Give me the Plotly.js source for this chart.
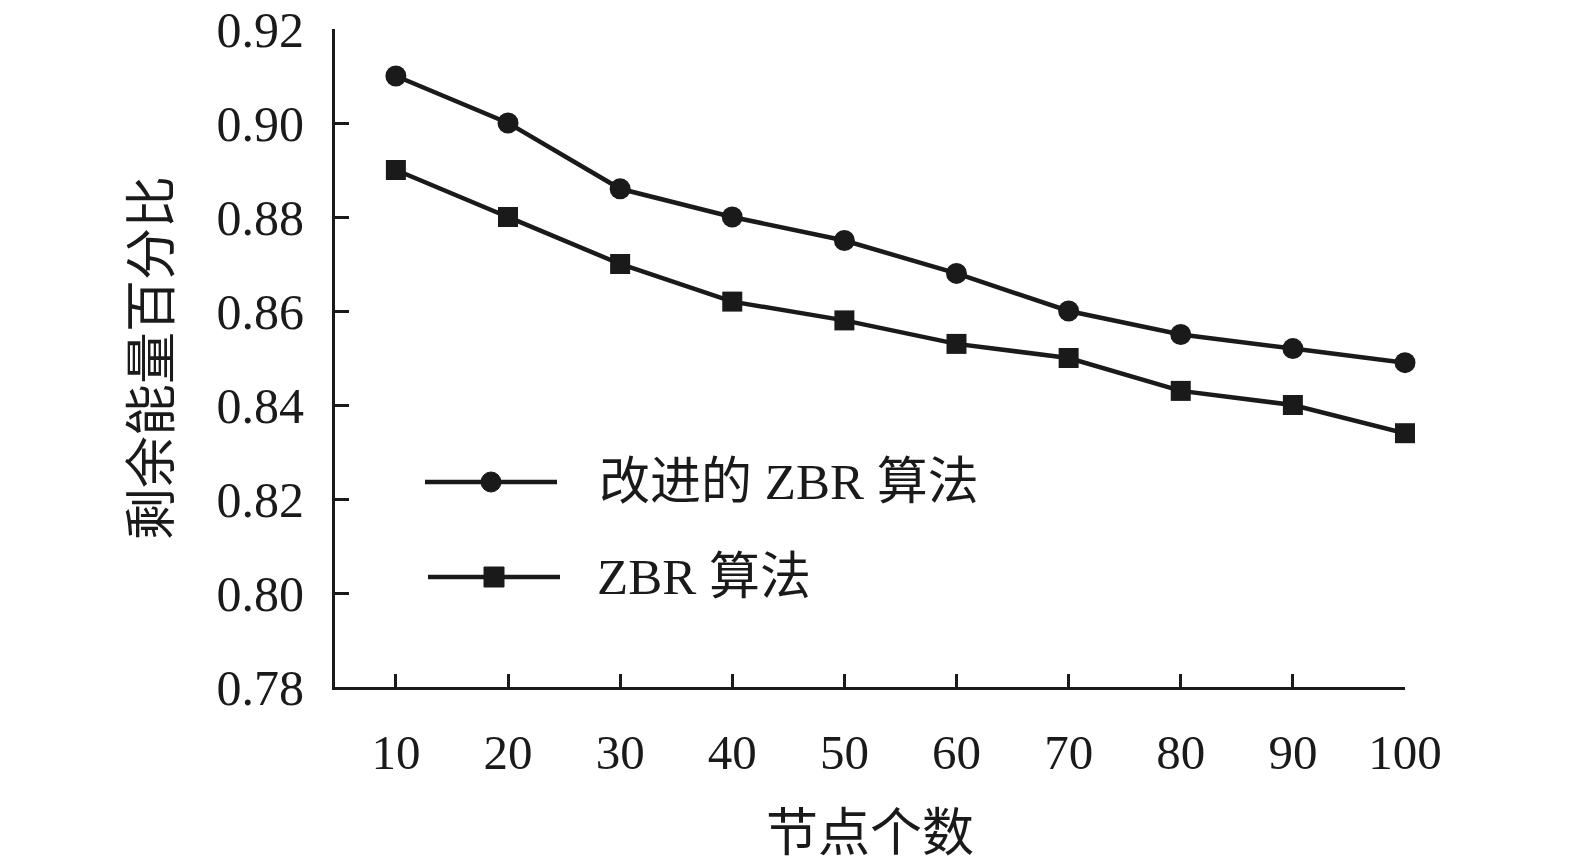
<!DOCTYPE html>
<html>
<head>
<meta charset="utf-8">
<script src="https://cdn.plot.ly/plotly-3.0.1.min.js"></script>
<style>
  html, body { margin: 0; padding: 0; background: #fff; }
  #chart { width: 1575px; height: 862px; }
</style>
</head>
<body>
<div id="chart"></div>
<script>
// node counts and remaining-energy ratios
const nodeCounts = [10, 20, 30, 40, 50, 60, 70, 80, 90, 100];
const improvedZBR = [0.910, 0.900, 0.886, 0.880, 0.875, 0.868, 0.860, 0.855, 0.852, 0.849];
const plainZBR = [0.890, 0.880, 0.870, 0.862, 0.858, 0.853, 0.850, 0.843, 0.840, 0.834];
const yTicks = [0.78, 0.80, 0.82, 0.84, 0.86, 0.88, 0.90, 0.92];
const seriesNames = ['改进的 ZBR 算法', 'ZBR 算法'];

const INK = '#1a1a1a';
const FONT = '"Liberation Serif", "Noto Sans CJK SC", serif';

// plot box in pixels
const L = 335, R = 1405, T = 29, B = 687;
const px = x => (x - L) / (R - L);
const py = y => (B - y) / (B - T);

const traces = [
  {x: nodeCounts, y: improvedZBR, name: seriesNames[0], mode: 'lines+markers', cliponaxis: false,
   line: {color: INK, width: 4.5}, marker: {symbol: 'circle', size: 21, color: INK}},
  {x: nodeCounts, y: plainZBR, name: seriesNames[1], mode: 'lines+markers', cliponaxis: false,
   line: {color: INK, width: 4.5}, marker: {symbol: 'square', size: 20, color: INK}}
];

// hand-made legend: long line samples like the original
const legendRows = [
  {x0: 425, x1: 557, xm: 491, y: 482, sym: 'circle', tx: 597},
  {x0: 428, x1: 560, xm: 494, y: 577, sym: 'rect', tx: 595}
];
const shapes = [], annotations = [];
legendRows.forEach((r, i) => {
  shapes.push({type: 'line', xref: 'paper', yref: 'paper', x0: px(r.x0), x1: px(r.x1),
    y0: py(r.y), y1: py(r.y), line: {color: INK, width: 4.5}});
  shapes.push({type: r.sym, xref: 'paper', yref: 'paper', xsizemode: 'pixel', ysizemode: 'pixel',
    xanchor: px(r.xm), yanchor: py(r.y), x0: -10, x1: 10, y0: -10, y1: 10,
    fillcolor: INK, line: {color: INK, width: 1}});
  annotations.push({xref: 'paper', yref: 'paper', x: px(r.tx), y: py(r.y), xanchor: 'left',
    yanchor: 'middle', showarrow: false, text: seriesNames[i], font: {family: FONT, size: 51, color: INK}});
});

const layout = {
  width: 1575, height: 862,
  margin: {l: L, r: 1575 - R, t: T, b: 862 - B},
  paper_bgcolor: '#fff', plot_bgcolor: '#fff',
  showlegend: false,
  font: {family: FONT, color: INK},
  xaxis: {
    range: [4.57, 100], tickvals: nodeCounts, ticks: 'inside', ticklen: 13, tickwidth: 3, tickcolor: INK,
    showline: true, linecolor: INK, linewidth: 3, showgrid: false, zeroline: false,
    tickfont: {size: 49, color: INK}, ticklabelstandoff: 20,
    title: {text: '节点个数', font: {size: 52, color: INK}, standoff: 40}
  },
  yaxis: {
    range: [0.78, 0.92], tickvals: yTicks, tickformat: '.2f', ticks: 'inside', ticklen: 14, tickwidth: 3,
    tickcolor: INK, showline: true, linecolor: INK, linewidth: 3, showgrid: false, zeroline: false,
    tickfont: {size: 50, color: INK}, ticklabelstandoff: 18,
    title: {text: '剩余能量百分比', font: {size: 52, color: INK}, standoff: 30}
  },
  shapes: shapes,
  annotations: annotations
};

Plotly.newPlot('chart', traces, layout, {staticPlot: true});
</script>
</body>
</html>
